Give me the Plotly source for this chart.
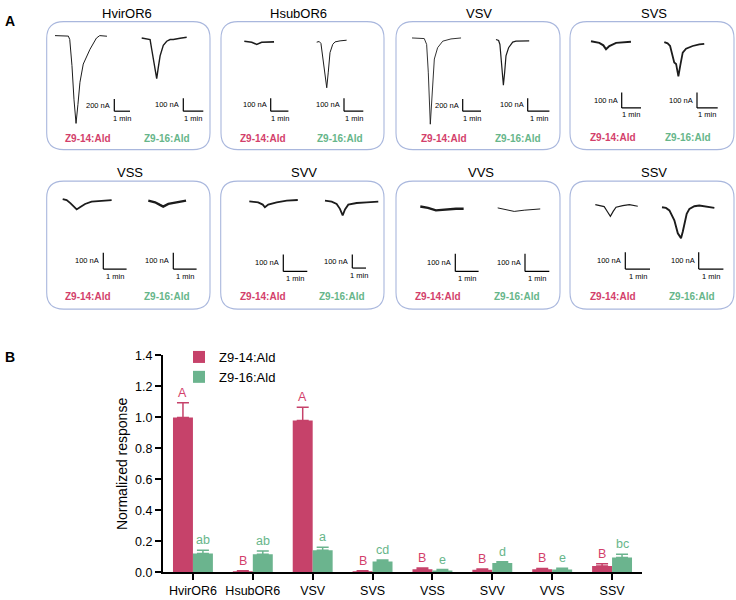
import plotly.graph_objects as go

W, H = 736, 600

# ---------------- Panel A data: current traces (time in min, current in nA) ----------------
HvirOR6_Z14_t = [0, 0.45, 0.85, 0.94, 1.08, 1.21, 1.34, 1.46, 1.59, 1.80, 2.23, 2.64, 2.85, 3.31]
HvirOR6_Z14_nA = [0, -3, -8, -65, -495, -1060, -1450, -1140, -770, -470, -225, -40, 0, -10]
HvirOR6_Z16_t = [0, 0.33, 0.42, 0.50, 0.62, 0.75, 0.83, 0.92, 1.08, 1.25, 1.42, 1.58, 1.92, 2.25]
HvirOR6_Z16_nA = [0, -5, -12, -87, -213, -313, -226, -138, -57, -25, -12, -12, -2, 5]
HsubOR6_Z14_t = [0, 0.42, 0.70, 0.98, 1.68]
HsubOR6_Z14_nA = [0, -8, -25, -8, -5]
HsubOR6_Z16_t = [0, 0.13, 0.22, 0.34, 0.52, 0.60, 0.69, 0.83, 0.95, 1.21, 1.55]
HsubOR6_Z16_nA = [0, 5, -10, -155, -351, -231, -80, -17, 2, 10, 15]
VSV_Z14_t = [0, 0.40, 0.67, 0.80, 0.89, 1.00, 1.09, 1.22, 1.40, 1.68, 2.13, 2.68]
VSV_Z14_nA = [0, -5, -10, -106, -565, -1424, -887, -348, -161, -53, -16, 0]
VSV_Z16_t = [0, 0.12, 0.18, 0.26, 0.34, 0.40, 0.46, 0.58, 0.77, 0.92, 1.23, 1.53]
VSV_Z16_nA = [0, -8, -38, -201, -351, -251, -126, -63, -20, -13, -11, -11]
SVS_Z14_t = [0, 0.43, 0.64, 0.78, 0.95, 1.30, 2.07]
SVS_Z14_nA = [0, -11, -27, -53, -32, -11, -4]
SVS_Z16_t = [0, 0.16, 0.28, 0.41, 0.48, 0.57, 0.68, 0.77, 0.89, 1.05, 1.37, 1.69, 1.93]
SVS_Z16_nA = [0, -8, -25, -89, -132, -142, -223, -153, -68, -43, -25, -15, -11]
VSS_Z14_t = [0, 0.17, 0.34, 0.48, 0.60, 0.74, 0.96, 1.24, 1.60, 2.10]
VSS_Z14_nA = [0, -6, -26, -46, -63, -50, -30, -16, -10, -6]
VSS_Z16_t = [0, 0.29, 0.50, 0.64, 0.86, 1.22, 1.62]
VSS_Z16_nA = [0, -10, -26, -36, -20, -10, 0]
SVV_Z14_t = [0, 0.37, 0.56, 0.65, 0.79, 1.14, 1.56, 2.02]
SVV_Z14_nA = [0, -6, -19, -35, -19, -6, 4, 8]
SVV_Z16_t = [0, 0.49, 0.85, 1.09, 1.29, 1.46, 1.70, 2.31, 3.04, 3.89]
SVV_Z16_nA = [0, -7, -24, -60, -107, -64, -29, -17, -12, -7]
VVS_Z14_t = [0, 0.33, 0.67, 1.10, 1.53, 1.86]
VVS_Z14_nA = [0, -8, -22, -17, -13, -13]
VVS_Z16_t = [0, 0.34, 0.68, 1.09, 1.44, 1.75]
VVS_Z16_nA = [0, -9, -20, -13, -9, -6]
SSV_Z14_t = [0, 0.20, 0.36, 0.46, 0.61, 0.73, 0.84, 1.11, 1.38, 1.72]
SSV_Z14_nA = [0, -6, -12, -35, -69, -39, -16, -6, 0, -10]
SSV_Z16_t = [0, 0.16, 0.30, 0.50, 0.64, 0.77, 0.84, 0.90, 1.00, 1.11, 1.31, 1.51, 1.85, 2.12]
SSV_Z16_nA = [0, -4, -19, -77, -154, -183, -145, -97, -39, -10, 6, 10, 4, -4]

receptors = ["HvirOR6", "HsubOR6", "VSV", "SVS", "VSS", "SVV", "VVS", "SSV"]
scale_nA = [200, 100, 100, 100, 200, 100, 100, 100, 100, 100, 100, 100, 100, 100, 100, 100]
ligands = ["Z9-14:Ald", "Z9-16:Ald"]

# ---------------- Panel B data ----------------
categories = ["HvirOR6", "HsubOR6", "VSV", "SVS", "VSS", "SVV", "VVS", "SSV"]
z14_mean = [1.00, 0.008, 0.98, 0.008, 0.021, 0.017, 0.021, 0.042]
z14_err = [0.095, 0.003, 0.085, 0.003, 0.008, 0.006, 0.005, 0.015]
z16_mean = [0.122, 0.118, 0.143, 0.071, 0.013, 0.061, 0.019, 0.097]
z16_err = [0.021, 0.021, 0.019, 0.009, 0.006, 0.008, 0.008, 0.021]
z14_letters = ["A", "B", "A", "B", "B", "B", "B", "B"]
z16_letters = ["ab", "ab", "a", "cd", "e", "d", "e", "bc"]
yticks = [0.0, 0.2, 0.4, 0.6, 0.8, 1.0, 1.2, 1.4]

RED = "#C6426A"
GREEN = "#6BB48E"
RED_TXT = "#D33F6B"
GREEN_TXT = "#67B68A"
BOX = "#A9B7DD"
FONT = "Liberation Sans, Arial, sans-serif"

def px(x):
    return x / W

def py(y):
    return 1 - y / H

traces = [
    (HvirOR6_Z14_t, HvirOR6_Z14_nA), (HvirOR6_Z16_t, HvirOR6_Z16_nA),
    (HsubOR6_Z14_t, HsubOR6_Z14_nA), (HsubOR6_Z16_t, HsubOR6_Z16_nA),
    (VSV_Z14_t, VSV_Z14_nA), (VSV_Z16_t, VSV_Z16_nA),
    (SVS_Z14_t, SVS_Z14_nA), (SVS_Z16_t, SVS_Z16_nA),
    (VSS_Z14_t, VSS_Z14_nA), (VSS_Z16_t, VSS_Z16_nA),
    (SVV_Z14_t, SVV_Z14_nA), (SVV_Z16_t, SVV_Z16_nA),
    (VVS_Z14_t, VVS_Z14_nA), (VVS_Z16_t, VVS_Z16_nA),
    (SSV_Z14_t, SSV_Z14_nA), (SSV_Z16_t, SSV_Z16_nA),
]

# layout geometry per sub-trace: origin px, px per min, px per nA, scale-bar corner px, line width
geo = [
    ((55, 29.3), 15.7, 0.062, (114.3, 106.7), 1.0),
    ((141.7, 31.7), 20, 0.133, (183.3, 106.7), 1.4),
    ((244.3, 35), 17.7, 0.133, (270.7, 106.7), 1.6),
    ((316.7, 36), 19.3, 0.133, (344, 106.7), 1.0),
    ((412, 31.7), 18.3, 0.062, (462.7, 106.7), 0.9),
    ((496, 33.3), 21.7, 0.133, (527.7, 106.7), 1.2),
    ((591, 35), 19.3, 0.157, (621.7, 103.3), 2.0),
    ((664.3, 36), 20.7, 0.157, (697, 103.3), 1.8),
    ((62.7, 196.7), 23.3, 0.167, (103.3, 268.3), 1.8),
    ((148.3, 198.3), 23.3, 0.167, (173.3, 268.3), 2.4),
    ((249.3, 199), 24, 0.173, (283.3, 270.7), 1.8),
    ((325, 198.3), 13.7, 0.14, (352.3, 267.3), 1.8),
    ((420.3, 204.3), 23.3, 0.18, (455.3, 270.7), 2.4),
    ((497.7, 205.7), 24.3, 0.18, (525, 270.7), 1.0),
    ((595.3, 202.3), 24.7, 0.173, (625.3, 268.3), 1.2),
    ((662, 205), 24.7, 0.173, (698.7, 268.3), 1.9),
]

boxes = [(46.7, 15, 210, 146), (221, 15, 384, 146), (396, 15, 560, 146), (570, 15, 734, 146),
         (46.7, 178.3, 210, 309.3), (220.7, 178.3, 384, 309.3), (396, 178.3, 560, 309.3), (570, 178.3, 734, 309.3)]
title_pos = [(126.7, 7), (298.3, 7), (479.3, 7), (654.3, 7),
             (130, 169.7), (304, 169.7), (481, 169.7), (654.3, 169.7)]
label_pos = [[(88.3, 135), (166.7, 135)], [(263.3, 135), (340, 135)], [(444.3, 135), (517.7, 135)],
             [(612.7, 134), (687.7, 134)],
             [(88, 296.7), (167.2, 296.7)], [(263, 296.7), (342, 296.7)], [(438.2, 296.7), (517, 296.7)],
             [(613, 296.7), (691.8, 296.7)]]

fig = go.Figure()
layout = dict(width=W, height=H, margin=dict(l=0, r=0, t=0, b=0), paper_bgcolor="white",
              plot_bgcolor="rgba(0,0,0,0)", font=dict(family=FONT, color="black"))
shapes = []
annotations = []

for k, ((t, cur), (org, ppm, ppn, corner, lw), s) in enumerate(zip(traces, geo, scale_nA), start=1):
    ox, oy = org
    x0p, x1p = max(ox - 10, 0), min(ox + 110, W)
    y0p, y1p = oy - 15, min(oy + 110, H)
    suf = "" if k == 1 else str(k)
    layout["xaxis" + suf] = dict(domain=[px(x0p), px(x1p)], range=[(x0p - ox) / ppm, (x1p - ox) / ppm],
                                 visible=False, fixedrange=True, anchor="y" + suf)
    layout["yaxis" + suf] = dict(domain=[py(y1p), py(y0p)], range=[-(y1p - oy) / ppn, (oy - y0p) / ppn],
                                 visible=False, fixedrange=True, anchor="x" + suf)
    fig.add_trace(go.Scatter(x=t, y=cur, mode="lines", line=dict(color="#1c1c1c", width=lw),
                             xaxis="x" + suf, yaxis="y" + suf, showlegend=False, hoverinfo="skip"))
    bx, by = corner
    bt = (bx - ox) / ppm
    bI = -(by - oy) / ppn
    shapes.append(dict(type="line", xref="x" + suf, yref="y" + suf, x0=bt, x1=bt, y0=bI, y1=bI + s,
                       line=dict(color="black", width=1.2)))
    shapes.append(dict(type="line", xref="x" + suf, yref="y" + suf, x0=bt, x1=bt + 1, y0=bI, y1=bI,
                       line=dict(color="black", width=1.2)))
    annotations.append(dict(x=bt, y=bI + s / 2, xref="x" + suf, yref="y" + suf, text=f"{s} nA",
                            showarrow=False, xanchor="right", yanchor="middle", xshift=-2,
                            font=dict(size=7.5, family=FONT, color="black")))
    annotations.append(dict(x=bt + 0.5, y=bI, xref="x" + suf, yref="y" + suf, text="1 min",
                            showarrow=False, xanchor="center", yanchor="middle", yshift=-7,
                            font=dict(size=7.5, family=FONT, color="black")))

r = 17
for (x0, y0, x1, y1), name, tp, lps in zip(boxes, receptors, title_pos, label_pos):
    def P(x, y):
        return f"{px(x):.5f},{py(y):.5f}"
    path = (f"M {P(x0 + r, y0)} L {P(x1 - r, y0)} Q {P(x1, y0)} {P(x1, y0 + r)} "
            f"L {P(x1, y1 - r)} Q {P(x1, y1)} {P(x1 - r, y1)} L {P(x0 + r, y1)} "
            f"Q {P(x0, y1)} {P(x0, y1 - r)} L {P(x0, y0 + r)} Q {P(x0, y0)} {P(x0 + r, y0)} Z")
    shapes.append(dict(type="path", xref="paper", yref="paper", path=path,
                       line=dict(color=BOX, width=1.1), layer="below"))
    annotations.append(dict(x=px(tp[0]), y=py(tp[1]), xref="paper", yref="paper", text=name,
                            showarrow=False, xanchor="center", yanchor="middle",
                            font=dict(size=13, family=FONT, color="black")))
    for (lx, ly), lig, col in zip(lps, ligands, [RED_TXT, GREEN_TXT]):
        annotations.append(dict(x=px(lx), y=py(ly), xref="paper", yref="paper", text=f"<b>{lig}</b>",
                                showarrow=False, xanchor="center", yanchor="middle",
                                font=dict(size=10, family=FONT, color=col)))

# panel letters
annotations.append(dict(x=px(10), y=py(14), xref="paper", yref="paper", text="<b>A</b>", showarrow=False,
                        xanchor="center", yanchor="middle", font=dict(size=14, family=FONT)))
annotations.append(dict(x=px(10), y=py(358), xref="paper", yref="paper", text="<b>B</b>", showarrow=False,
                        xanchor="center", yanchor="middle", font=dict(size=14, family=FONT)))

# ---------------- Panel B: bars ----------------
fig.add_trace(go.Bar(x=categories, y=z14_mean, name="Z9-14:Ald", marker=dict(color=RED, line=dict(width=0)),
                     error_y=dict(type="data", array=z14_err, arrayminus=[0] * len(z14_err), symmetric=False,
                                  color=RED, thickness=1.5, width=6),
                     xaxis="x17", yaxis="y17", hoverinfo="skip"))
fig.add_trace(go.Bar(x=categories, y=z16_mean, name="Z9-16:Ald", marker=dict(color=GREEN, line=dict(width=0)),
                     error_y=dict(type="data", array=z16_err, arrayminus=[0] * len(z16_err), symmetric=False,
                                  color=GREEN, thickness=1.5, width=6),
                     xaxis="x17", yaxis="y17", hoverinfo="skip"))

for c, m, e, lab in zip(categories, z14_mean, z14_err, z14_letters):
    annotations.append(dict(x=c, y=m + e, xref="x17", yref="y17", text=lab, showarrow=False,
                            xanchor="center", yanchor="bottom", xshift=-10, yshift=1,
                            font=dict(size=12.5, family=FONT, color=RED_TXT)))
for c, m, e, lab in zip(categories, z16_mean, z16_err, z16_letters):
    annotations.append(dict(x=c, y=m + e, xref="x17", yref="y17", text=lab, showarrow=False,
                            xanchor="center", yanchor="bottom", xshift=10, yshift=1,
                            font=dict(size=12.5, family=FONT, color=GREEN_TXT)))

layout["xaxis17"] = dict(domain=[px(163), px(642)], anchor="y17", range=[-0.5, 7.5], type="category",
                         showline=True, linecolor="black", linewidth=2, ticks="outside", ticklen=6,
                         tickwidth=2, tickcolor="black", showgrid=False, zeroline=False,
                         tickfont=dict(size=12.5, family=FONT, color="black"), fixedrange=True)
layout["yaxis17"] = dict(domain=[py(579), py(356.7)], anchor="x17", range=[0, 1.4], tickvals=yticks,
                         tickformat=".1f", showline=True, linecolor="black", linewidth=2, ticks="outside",
                         ticklen=6, tickwidth=2, tickcolor="black", showgrid=False, zeroline=False,
                         tickfont=dict(size=12.5, family=FONT, color="black"),
                         title=dict(text="Normalized response", font=dict(size=14, family=FONT, color="black"),
                                    standoff=4),
                         fixedrange=True)
layout["barmode"] = "group"
layout["bargap"] = 1 / 3
layout["bargroupgap"] = 0
layout["legend"] = dict(x=px(179), y=py(343), xanchor="left", yanchor="top", bgcolor="rgba(0,0,0,0)",
                        font=dict(size=13, family=FONT, color="black"), tracegroupgap=0,
                        itemwidth=30)
layout["shapes"] = shapes
layout["annotations"] = annotations
fig.update_layout(**layout)

fig.write_html("out.html", config={"displayModeBar": False},
               post_script="document.body.style.margin='0px';")
